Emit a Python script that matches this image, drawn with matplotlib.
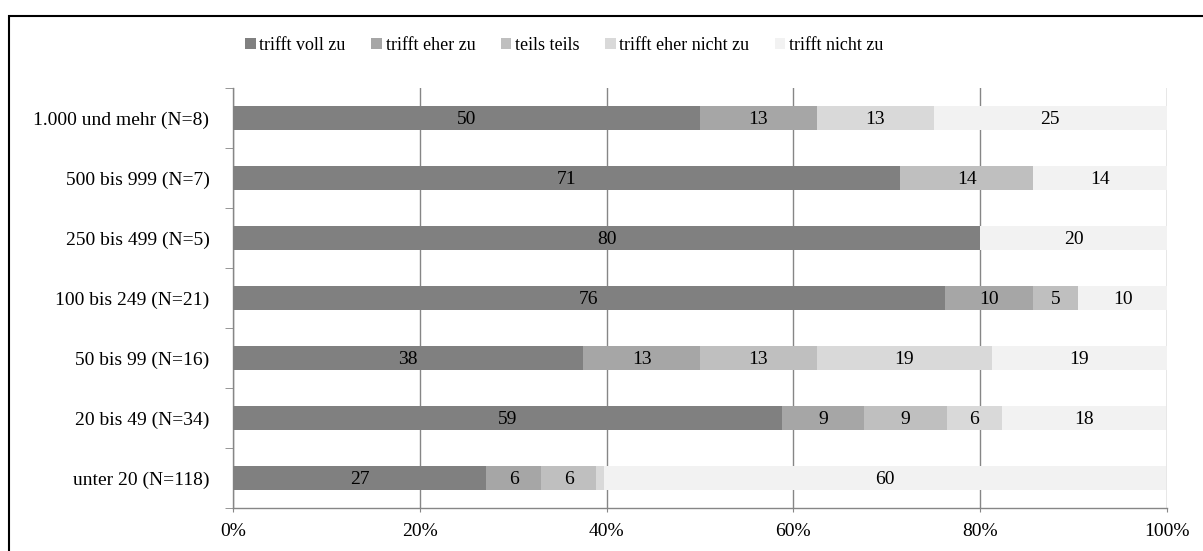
import numpy as np
import matplotlib
matplotlib.use("Agg")
import matplotlib.pyplot as plt
from matplotlib.patches import Rectangle

plt.rcParams['font.family'] = ['Liberation Serif', 'DejaVu Serif']

# categories, bottom to top
categories = ["unter 20 (N=118)", "20 bis 49 (N=34)", "50 bis 99 (N=16)", "100 bis 249 (N=21)",
              "250 bis 499 (N=5)", "500 bis 999 (N=7)", "1.000 und mehr (N=8)"]
series_names = ["trifft voll zu", "trifft eher zu", "teils teils", "trifft eher nicht zu", "trifft nicht zu"]
colors = ["#808080", "#a6a6a6", "#bfbfbf", "#d9d9d9", "#f2f2f2"]

# percent values per series (same order as categories)
voll_zu       = [27.1, 58.8, 37.5, 76.2, 80.0, 71.4, 50.0]
eher_zu       = [5.9,  8.8,  12.5, 9.5,  0.0,  0.0,  12.5]
teils_teils   = [5.9,  8.8,  12.5, 4.8,  0.0,  14.3, 0.0]
eher_nicht_zu = [0.8,  5.9,  18.75, 0.0, 0.0,  0.0,  12.5]
nicht_zu      = [60.2, 17.6, 18.75, 9.5, 20.0, 14.3, 25.0]

data = [voll_zu, eher_zu, teils_teils, eher_nicht_zu, nicht_zu]

fig = plt.figure(figsize=(12.03, 5.51), dpi=100)
ax = fig.add_axes([233/1203, 43/551, 934/1203, 420/551])

y = np.arange(len(categories))
left = np.zeros(len(categories))
for name, vals, col in zip(series_names, data, colors):
    vals = np.array(vals)
    ax.barh(y, vals, left=left, height=0.4, color=col, label=name, zorder=3)
    for yi, l, v in zip(y, left, vals):
        if v >= 3:
            ax.text(l + v / 2, yi - 0.02, str(int(np.floor(v + 0.5))), ha='center', va='center',
                    fontsize=14, zorder=4)
    left += vals

ax.set_xlim(0, 100)
ax.set_ylim(-0.5, len(categories) - 0.5)
ax.set_xticks(np.arange(0, 101, 20))
ax.set_xticklabels([f"{t}%" for t in range(0, 101, 20)], fontsize=14)
ax.set_yticks(y)
ax.set_yticklabels(categories, fontsize=14)
ax.set_yticks(np.arange(-0.5, len(categories), 1), minor=True)
ax.tick_params(axis='y', which='major', length=0, pad=17)
ax.tick_params(axis='y', which='minor', length=6, color='#868686')
ax.tick_params(axis='x', length=3, color='#868686', pad=8)
ax.grid(axis='x', color='#868686', lw=1, zorder=0)
for s in ['top', 'right']:
    ax.spines[s].set_visible(False)
for s in ['left', 'bottom']:
    ax.spines[s].set_color('#868686')
    ax.spines[s].set_linewidth(1)

fig.legend(loc='center', bbox_to_anchor=(0.469, 0.918), ncol=5, frameon=False, fontsize=13,
           handlelength=0.6, handleheight=0.6, handletextpad=0.2, columnspacing=1.4)

fig.patches.append(Rectangle((9/1203, -0.1), 1.2, 1.1 - 16/551, transform=fig.transFigure,
                             fill=False, edgecolor='black', lw=1.5))

fig.savefig("out.png", dpi=100)
